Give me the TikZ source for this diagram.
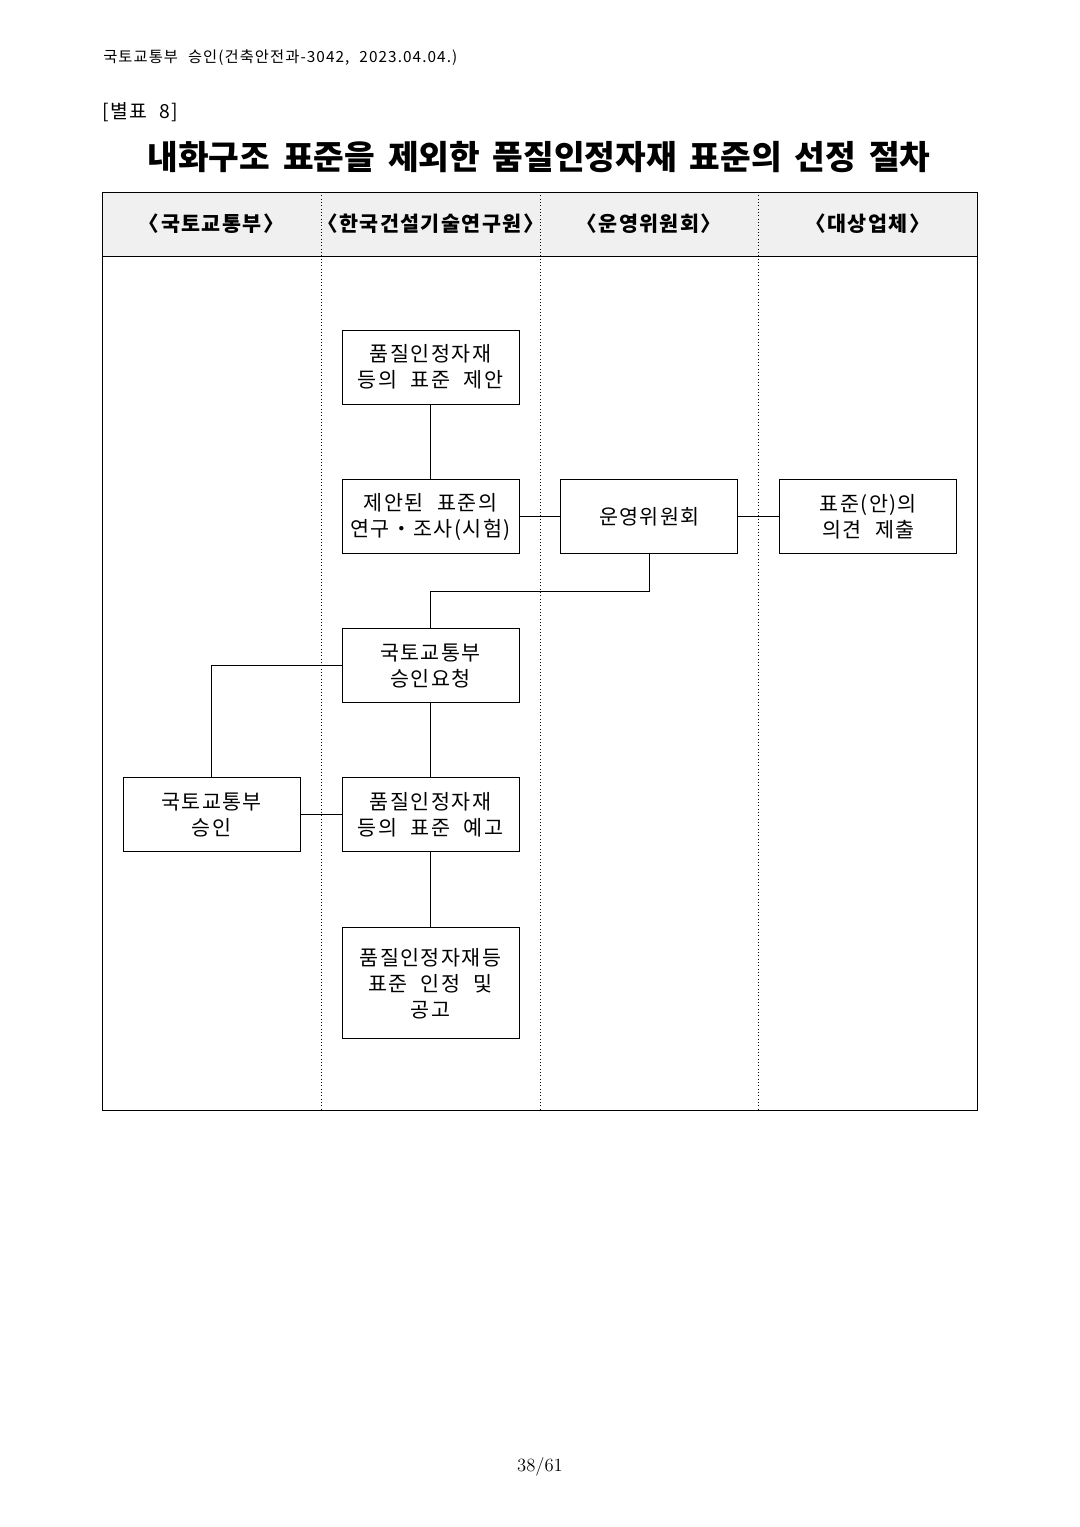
\documentclass[tikz,border=0pt]{standalone}
\usepackage{fontspec}
\newfontfamily\krfont{Noto Sans CJK KR}[WordSpace=2.2, LetterSpace=7]
\newfontfamily\krtitle{Noto Sans CJK KR}[WordSpace=1.7]
\usetikzlibrary{positioning}

\begin{document}
\begin{tikzpicture}[
  x=0.75pt, y=-0.75pt,
  stepbox/.style={draw=black, line width=0.7pt, minimum width=132.75pt, minimum height=55.5pt, inner sep=0pt, align=center, font=\krfont\fontsize{15.5}{19.5}\selectfont},
  lanehead/.style={font=\krfont\bfseries\fontsize{15.5}{18}\selectfont},
  link/.style={line width=0.7pt, draw=black},
  lane/.style={dotted, line width=0.5pt}
]
  \useasboundingbox (0,0) rectangle (1080,1527);

  % page header
  \node[anchor=west, inner sep=0pt, font=\krfont\fontsize{11.5}{13}\selectfont] (docref) at (103,58) {국토교통부 승인(건축안전과-3042, 2023.04.04.)};
  \node[anchor=west, inner sep=0pt, font=\krfont\fontsize{14.5}{16}\selectfont] (annex) at (102,112) {[별표 8]};
  \node[font=\krtitle\bfseries\fontsize{25}{29}\selectfont] (title) at (539,157) {내화구조 표준을 제외한 품질인정자재 표준의 선정 절차};

  % swimlanes
  \fill[black!6] (102,192) rectangle (977,256);
  \foreach \lx in {321,540,758} \draw[lane] (\lx,192) -- (\lx,1110);
  \draw[line width=0.7pt] (102,192) rectangle (977,1110);
  \draw[line width=0.7pt] (102,256) -- (977,256);

  \node[lanehead] (molit) at (211.5,224) {〈국토교통부〉};
  \node[lanehead] (kict) at (430.5,224) {〈한국건설기술연구원〉};
  \node[lanehead] (cmte) at (649,224) {〈운영위원회〉};
  \node[lanehead] (firm) at (867.5,224) {〈대상업체〉};

  % process steps
  \node[stepbox] (propose) at (430.5,367) {품질인정자재\\등의 표준 제안};
  \node[stepbox, below=56.25pt of propose] (study) {제안된 표준의\\연구・조사(시험)};
  \node[stepbox, right=30.75pt of study] (board) {운영위원회};
  \node[stepbox, right=30.75pt of board] (opinion) {표준(안)의\\의견 제출};
  \node[stepbox, below=55.5pt of study] (request) {국토교통부\\승인요청};
  \node[stepbox, below=55.5pt of request] (notice) {품질인정자재\\등의 표준 예고};
  \node[stepbox, left=30.75pt of notice] (approve) {국토교통부\\승인};
  \node[stepbox, minimum height=83.25pt, below=56.25pt of notice] (announce) {품질인정자재등\\표준 인정 및\\공고};

  \draw[link] (propose) -- (study);
  \draw[link] (study) -- (board);
  \draw[link] (board) -- (opinion);
  \draw[link] (board.south) -- ++(0,37) -| (request.north);
  \draw[link] (request.west) -| (approve.north);
  \draw[link] (request) -- (notice);
  \draw[link] (approve) -- (notice);
  \draw[link] (notice) -- (announce);

  % page number
  \node[font=\fontsize{14}{16}\selectfont] (pageno) at (540,1467) {38/61};
\end{tikzpicture}
\end{document}
